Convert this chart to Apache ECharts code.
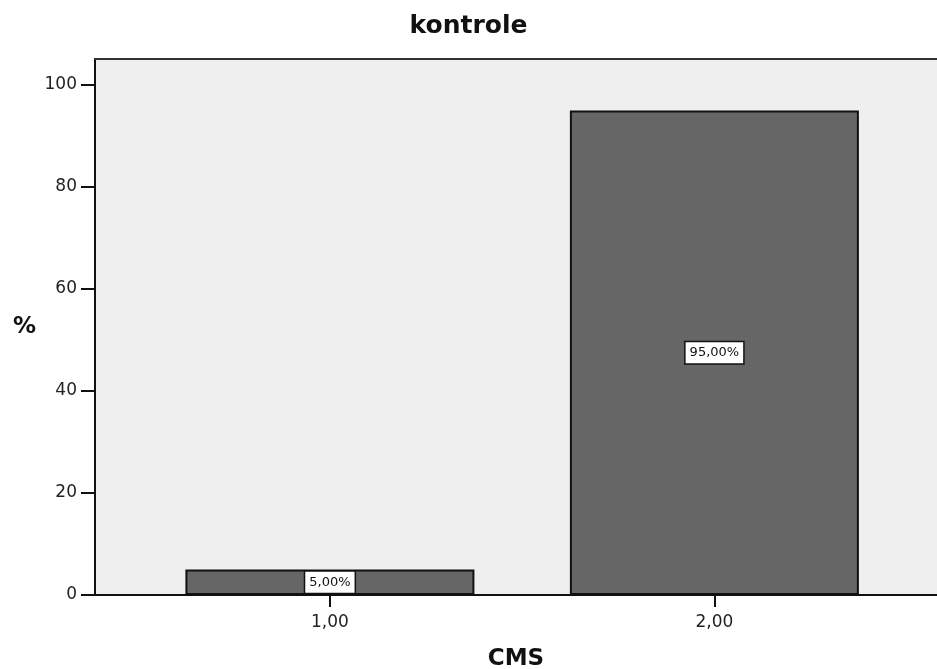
<!DOCTYPE html>
<html>
<head>
<meta charset="utf-8">
<script src="https://cdn.jsdelivr.net/npm/echarts@6/dist/echarts.min.js"></script>
<style>html,body{margin:0;padding:0;background:#fff;overflow:hidden}#c{width:937px;height:669px}</style>
</head>
<body>
<div id="c"></div>
<script>
const titleText = 'kontrole';
const xName = 'CMS';
const yName = '%';
const xValues = [1, 2];
const percents = [5, 95];
const yTicks = [0, 20, 40, 60, 80, 100];

const FONT = 'DejaVu Sans';
const fmt = v => v.toFixed(2).replace('.', ',');
const chart = echarts.init(document.getElementById('c'), null, {renderer: 'canvas'});
chart.setOption({
  backgroundColor: '#ffffff',
  animation: false,
  title: {
    text: titleText, left: 'center', top: 9,
    textStyle: {fontFamily: FONT, fontSize: 25, fontWeight: 'bold', color: '#111'}
  },
  grid: {
    left: 95, top: 59, right: 0, bottom: 74,
    outerBoundsMode: 'none', containLabel: false,
    show: true, backgroundColor: '#efefef', borderWidth: 0
  },
  xAxis: [{
    type: 'value', min: 0.389, max: 2.579,
    name: xName, nameLocation: 'middle', nameGap: 53,
    nameTextStyle: {fontFamily: FONT, fontSize: 23, fontWeight: 'bold', color: '#111'},
    axisLine: {show: true, onZero: false, lineStyle: {color: '#111', width: 2}},
    axisTick: {show: true, length: 12, customValues: xValues, lineStyle: {color: '#111', width: 2}},
    axisLabel: {customValues: xValues, formatter: v => fmt(v), margin: 19,
      fontFamily: FONT, fontSize: 17, color: '#222'},
    splitLine: {show: false}
  }, {
    type: 'value', position: 'top', min: 0.389, max: 2.579,
    axisLine: {show: true, onZero: false, lineStyle: {color: '#333', width: 2}},
    axisTick: {show: false}, axisLabel: {show: false}, splitLine: {show: false}
  }],
  yAxis: {
    type: 'value', min: 0, max: 105.1, interval: 20,
    name: yName, nameLocation: 'middle', nameGap: 59, nameRotate: 0,
    nameTextStyle: {fontFamily: FONT, fontSize: 23, fontWeight: 'bold', color: '#111', padding: [20, 0, 0, 0]},
    axisLine: {show: true, lineStyle: {color: '#111', width: 2}},
    axisTick: {show: true, length: 14, customValues: yTicks, lineStyle: {color: '#111', width: 2}},
    axisLabel: {customValues: yTicks, margin: 18, fontFamily: FONT, fontSize: 17, color: '#222'},
    splitLine: {show: false}
  },
  series: [{
    type: 'bar',
    xAxisIndex: 0,
    data: xValues.map((x, i) => [x, percents[i]]),
    barWidth: 289,
    itemStyle: {color: '#666666', borderColor: '#111', borderWidth: 2},
    label: {
      show: true, position: 'inside',
      formatter: p => fmt(p.value[1]) + '%',
      backgroundColor: '#ffffff', borderColor: '#111', borderWidth: 1.5,
      padding: [5, 4, 3, 4], color: '#111',
      fontFamily: FONT, fontSize: 13
    }
  }]
});
</script>
</body>
</html>
